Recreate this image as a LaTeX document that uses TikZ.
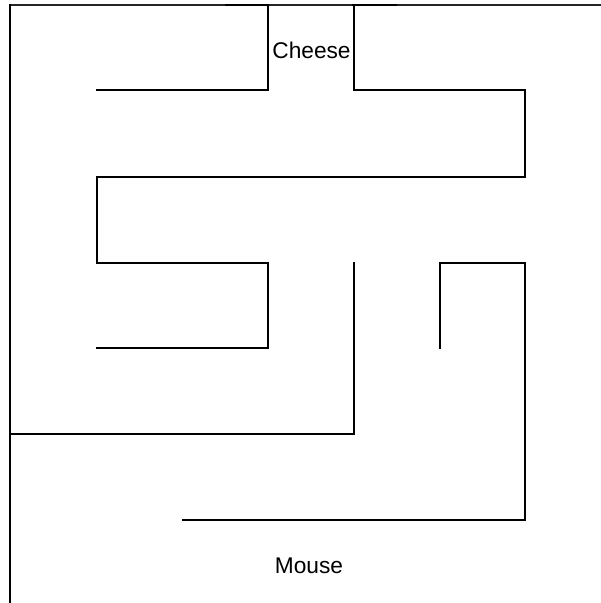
\documentclass[tikz,border=0pt]{standalone}
\usepackage{fontspec}
\setmainfont{Liberation Sans}
\begin{document}
\begin{tikzpicture}[x=1pt,y=-1pt,
  wall/.style={draw=black,line width=1.5pt,line cap=rect},
  toprim/.style={draw=black!85,line width=1.2pt},
  lbl/.style={font=\fontsize{22.7}{26}\selectfont,inner sep=0pt,anchor=base}]
\useasboundingbox (0,0) rectangle (601,603);
% outer borders
\draw[toprim] (10,5) -- (601,5);
\draw[wall,line width=2pt] (226,5) -- (268,5);
\draw[wall,line width=2pt] (353,5) -- (396,5);
\draw[wall] (10,5) -- (10,603);
% cheese corridor
\draw[wall] (268,5) -- (268,90) -- (97,90);
\draw[wall] (354,5) -- (354,90) -- (525,90) -- (525,177) -- (97,177) -- (97,263) -- (268,263) -- (268,348) -- (97,348);
\draw[wall] (354,263) -- (354,434) -- (10,434);
\draw[wall] (440,348) -- (440,263) -- (525,263) -- (525,520) -- (183,520);
% labels
\node[lbl] (cheese) at (311.5,58) {Cheese};
\node[lbl] (mouse) at (309,573) {Mouse};
\end{tikzpicture}
\end{document}
